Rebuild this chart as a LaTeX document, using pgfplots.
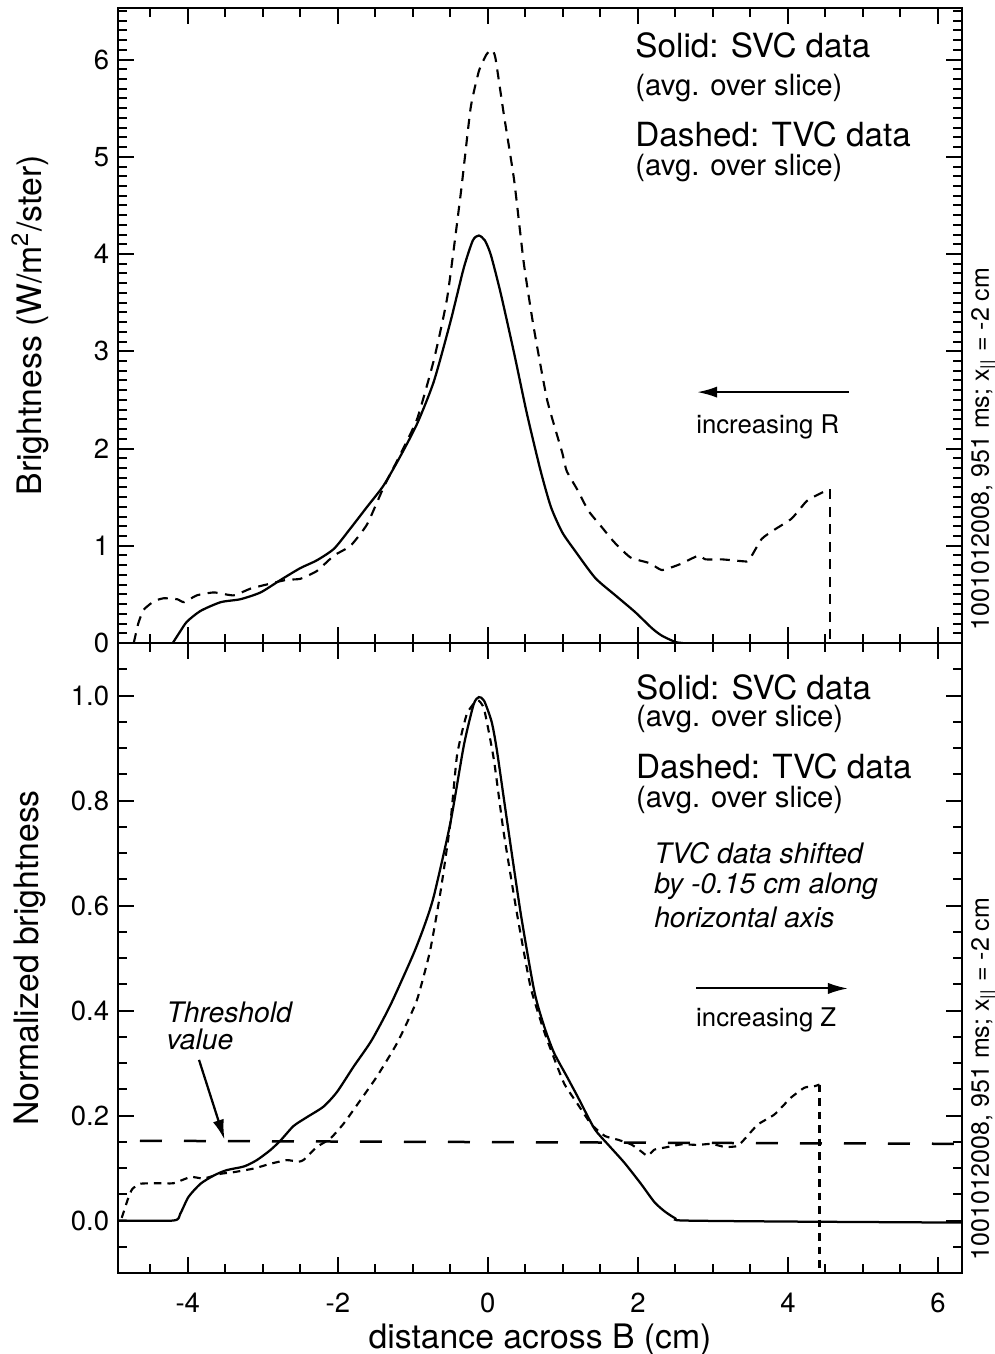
\documentclass[border=0pt]{standalone}
\usepackage{fontspec}
\setmainfont{TeX Gyre Heros}
\usepackage{pgfplots}
\pgfplotsset{compat=1.18}
\usetikzlibrary{arrows.meta}

\pgfplotstableread{
x y
-4.20 0
-4.10 0.12
-4.01 0.22
-3.83 0.33
-3.56 0.42
-3.30 0.45
-3.03 0.52
-2.76 0.65
-2.50 0.77
-2.28 0.85
-2.05 0.97
-1.83 1.18
-1.61 1.40
-1.39 1.62
-1.16 1.93
-0.94 2.26
-0.72 2.69
-0.50 3.30
-0.32 3.86
-0.20 4.14
-0.12 4.19
-0.04 4.14
0.04 3.99
0.17 3.60
0.35 2.98
0.52 2.36
0.70 1.78
0.84 1.40
0.99 1.14
1.16 0.95
1.43 0.67
1.70 0.49
1.96 0.32
2.19 0.15
2.32 0.075
2.50 0.01
2.60 0
}\topsolid

\pgfplotstableread{
x y
-4.72 0
-4.66 0.20
-4.59 0.34
-4.45 0.43
-4.32 0.46
-4.14 0.45
-4.05 0.42
-3.88 0.49
-3.65 0.52
-3.39 0.49
-3.16 0.56
-2.85 0.62
-2.68 0.65
-2.50 0.66
-2.28 0.74
-2.05 0.90
-1.83 1.00
-1.61 1.22
-1.39 1.60
-1.16 1.95
-0.94 2.31
-0.72 2.91
-0.54 3.56
-0.36 4.63
-0.23 5.50
-0.12 5.88
-0.02 6.05
0.05 6.10
0.10 6.02
0.21 5.45
0.35 4.76
0.48 3.90
0.61 3.25
0.79 2.50
0.99 1.96
1.05 1.77
1.19 1.58
1.34 1.36
1.52 1.19
1.68 1.04
1.90 0.88
2.16 0.82
2.32 0.75
2.56 0.81
2.81 0.90
2.90 0.86
3.12 0.86
3.41 0.84
3.48 0.85
3.65 1.07
3.83 1.17
4.05 1.28
4.25 1.46
4.41 1.53
4.52 1.57
4.56 1.58
}\topdashed

\pgfplotstableread{
x y
-4.93 0
-4.19 0
-4.10 0.013
-3.99 0.045
-3.83 0.07
-3.65 0.086
-3.48 0.096
-3.25 0.103
-3.08 0.115
-2.90 0.134
-2.76 0.153
-2.59 0.18
-2.41 0.197
-2.19 0.217
-2.01 0.245
-1.79 0.293
-1.55 0.343
-1.30 0.410
-1.00 0.505
-0.85 0.560
-0.72 0.618
-0.50 0.757
-0.32 0.905
-0.19 0.983
-0.12 0.997
-0.05 0.99
0.05 0.95
0.12 0.896
0.26 0.757
0.44 0.583
0.62 0.436
0.75 0.37
0.88 0.32
1.05 0.275
1.20 0.235
1.42 0.175
1.60 0.145
1.82 0.11
2.04 0.07
2.22 0.035
2.36 0.017
2.50 0.004
2.60 0
4.00 -0.002
6.32 -0.004
}\botsolid

\pgfplotstableread{
x y
-4.88 0.005
-4.80 0.04
-4.74 0.060
-4.63 0.070
-4.41 0.071
-4.19 0.071
-3.96 0.083
-3.79 0.080
-3.56 0.089
-3.39 0.092
-3.12 0.099
-2.90 0.108
-2.68 0.115
-2.52 0.112
-2.45 0.116
-2.28 0.14
-2.10 0.156
-1.92 0.185
-1.70 0.229
-1.48 0.274
-1.21 0.338
-0.95 0.418
-0.77 0.514
-0.63 0.627
-0.50 0.757
-0.41 0.887
-0.28 0.965
-0.14 0.991
-0.05 0.974
0.08 0.878
0.21 0.74
0.39 0.583
0.57 0.444
0.75 0.36
0.88 0.31
1.02 0.26
1.20 0.221
1.38 0.183
1.56 0.161
1.73 0.154
1.91 0.145
2.04 0.132
2.13 0.123
2.22 0.135
2.36 0.139
2.58 0.145
2.80 0.144
2.98 0.146
3.16 0.140
3.33 0.142
3.44 0.158
3.60 0.183
3.82 0.202
4.04 0.234
4.22 0.253
4.36 0.256
4.42 0.259
}\botdashed

\pgfplotsset{
  common/.style={
    width=337.6pt, scale only axis, xmin=-4.93, xmax=6.32,
    clip mode=individual,
    axis line style={line width=1pt},
    every tick/.style={line width=0.8pt, black},
    major tick length=6.5pt, minor tick length=3.5pt,
    tick align=inside,
    xtick={-4,-2,0,2,4,6},
    minor xtick={-4.5,-4,...,6},
    tick label style={font=\fontsize{11}{13}\selectfont},
    label style={font=\fontsize{13.5}{16}\selectfont},
    ylabel style={at={(axis description cs:-0.1043,0.5)}, anchor=center},
  },
  solidline/.style={black, line width=0.9pt, smooth, tension=0.4},
  dashline/.style={black, line width=0.85pt, dash pattern=on 4pt off 3pt},
}

\begin{document}
\begin{tikzpicture}
\path[use as bounding box] (-47.2pt,-284.4pt) rectangle (350.8pt,257.2pt);

\begin{axis}[common, name=top, at={(0pt,0pt)}, anchor=south west,
  height=254pt, ymin=0, ymax=6.53,
  ytick={0,1,2,3,4,5,6}, yticklabels={0,1,2,3,4,5,6},
  minor ytick={0,0.1,...,6.5},
  xticklabels={},
  ylabel={Brightness (W/m\textsuperscript{2}/ster)}]
\addplot[solidline] table[x=x,y=y] {\topsolid};
\addplot[dashline, smooth, tension=0.3] table[x=x,y=y] {\topdashed};
\addplot[dashline] coordinates {(4.56,1.58) (4.56,0)};
\node[anchor=west, font=\fontsize{13.3}{15}\selectfont] at (axis cs:1.85,6.15) {Solid: SVC data};
\node[anchor=west, font=\fontsize{11.7}{14}\selectfont] at (axis cs:1.85,5.71) {(avg. over slice)};
\node[anchor=west, font=\fontsize{13.3}{15}\selectfont] at (axis cs:1.85,5.23) {Dashed: TVC data};
\node[anchor=west, font=\fontsize{11.7}{14}\selectfont] at (axis cs:1.85,4.88) {(avg. over slice)};
\draw[line width=0.8pt, {Latex[length=8pt,width=4.5pt]}-] (axis cs:2.79,2.58) -- (axis cs:4.81,2.58);
\node[font=\fontsize{10.3}{12}\selectfont] at (axis cs:3.73,2.22) {increasing R};
\end{axis}

\begin{axis}[common, name=bot, at={(top.south west)}, anchor=north west,
  height=252pt, ymin=-0.1, ymax=1.1,
  ytick={0,0.2,0.4,0.6,0.8,1.0}, yticklabels={0.0,0.2,0.4,0.6,0.8,1.0},
  minor ytick={-0.05,0.05,0.1,0.15,0.25,0.3,0.35,0.45,0.5,0.55,0.65,0.7,0.75,0.85,0.9,0.95,1.05},
  xticklabels={-4,-2,0,2,4,6},
  xticklabel style={yshift=-4.5pt},
  xlabel={distance across B (cm)},
  xlabel style={at={(axis description cs:0.5,0)}, yshift=-26.8pt, anchor=center},
  ylabel={Normalized brightness}]
\addplot[black, line width=1pt, dash pattern=on 8.8pt off 8.8pt, dash phase=8.8pt] coordinates {(-4.93,0.152) (6.32,0.146)};
\addplot[solidline] table[x=x,y=y] {\botsolid};
\addplot[dashline, dash pattern=on 3pt off 2.4pt, smooth, tension=0.3] table[x=x,y=y] {\botdashed};
\addplot[dashline, dash pattern=on 3pt off 2.4pt] coordinates {(4.42,0.259) (4.42,-0.1)};
\node[anchor=west, font=\fontsize{13.3}{15}\selectfont] at (axis cs:1.86,1.015) {Solid: SVC data};
\node[anchor=west, font=\fontsize{11.7}{14}\selectfont] at (axis cs:1.86,0.955) {(avg. over slice)};
\node[anchor=west, font=\fontsize{13.3}{15}\selectfont] at (axis cs:1.86,0.865) {Dashed: TVC data};
\node[anchor=west, font=\fontsize{11.7}{14}\selectfont] at (axis cs:1.86,0.800) {(avg. over slice)};
\node[anchor=west, font=\fontsize{11.3}{13}\selectfont\itshape] at (axis cs:2.10,0.700) {TVC data shifted};
\node[anchor=west, font=\fontsize{11.3}{13}\selectfont\itshape] at (axis cs:2.10,0.637) {by -0.15 cm along};
\node[anchor=west, font=\fontsize{11.3}{13}\selectfont\itshape] at (axis cs:2.10,0.578) {horizontal axis};
\draw[line width=0.8pt, -{Latex[length=8pt,width=4.5pt]}] (axis cs:2.78,0.442) -- (axis cs:4.80,0.442);
\node[font=\fontsize{10.3}{12}\selectfont] at (axis cs:3.71,0.382) {increasing Z};
\node[anchor=west, font=\fontsize{11.3}{13}\selectfont\itshape] at (axis cs:-4.40,0.397) {Threshold};
\node[anchor=west, font=\fontsize{11.3}{13}\selectfont\itshape] at (axis cs:-4.40,0.345) {value};
\draw[line width=0.9pt, -{Latex[length=8pt,width=4.5pt]}] (axis cs:-3.85,0.306) -- (axis cs:-3.51,0.154);
\end{axis}

\node[rotate=90, anchor=west, font=\fontsize{10}{12}\selectfont] at ([xshift=8.8pt,yshift=1.5pt]top.south east) {1001012008, 951 ms; x\textsubscript{||} = -2 cm};
\node[rotate=90, anchor=west, font=\fontsize{10}{12}\selectfont] at ([xshift=8.8pt,yshift=1.5pt]bot.south east) {1001012008, 951 ms; x\textsubscript{||} = -2 cm};
\end{tikzpicture}
\end{document}
